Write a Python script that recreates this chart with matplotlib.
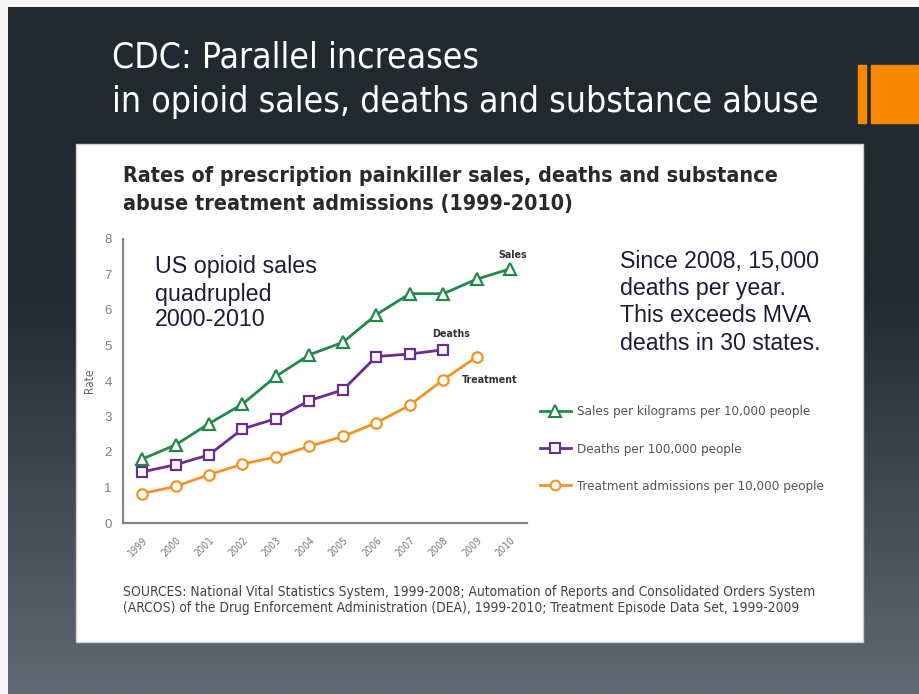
import numpy as np
import matplotlib
matplotlib.use("Agg")
import matplotlib.pyplot as plt
from matplotlib.patches import Rectangle
from matplotlib.lines import Line2D
from matplotlib import font_manager as fm

years = [1999, 2000, 2001, 2002, 2003, 2004, 2005, 2006, 2007, 2008, 2009, 2010]
sales = [1.8, 2.2, 2.8, 3.35, 4.13, 4.74, 5.09, 5.87, 6.46, 6.46, 6.87, 7.16]
death_years = [1999, 2000, 2001, 2002, 2003, 2004, 2005, 2006, 2007, 2008]
deaths = [1.44, 1.64, 1.92, 2.65, 2.94, 3.45, 3.75, 4.69, 4.76, 4.88]
treat_years = [1999, 2000, 2001, 2002, 2003, 2004, 2005, 2006, 2007, 2008, 2009]
treatment = [0.83, 1.03, 1.36, 1.66, 1.86, 2.16, 2.44, 2.82, 3.32, 4.04, 4.68]
y_ticks = [0, 1, 2, 3, 4, 5, 6, 7, 8]
legend_labels = ["Sales per kilograms per 10,000 people",
                 "Deaths per 100,000 people",
                 "Treatment admissions per 10,000 people"]
slide_title = ["CDC: Parallel increases", "in opioid sales, deaths and substance abuse"]
chart_title = ["Rates of prescription painkiller sales, deaths and substance",
               "abuse treatment admissions (1999-2010)"]
note_left = ["US opioid sales", "quadrupled", "2000-2010"]
note_right = ["Since 2008, 15,000", "deaths per year.", "This exceeds MVA", "deaths in 30 states."]
sources = ["SOURCES: National Vital Statistics System, 1999-2008; Automation of Reports and Consolidated Orders System",
           "(ARCOS) of the Drug Enforcement Administration (DEA), 1999-2010; Treatment Episode Data Set, 1999-2009"]

W, H = 919, 694
fig = plt.figure(figsize=(W / 100, H / 100), dpi=100)
fig.patch.set_facecolor("#f6f6f6")
renderer = fig.canvas.get_renderer()


def find_condensed(bold):
    cands = []
    for f in fm.fontManager.ttflist:
        st = str(f.stretch).lower()
        name = f.fname.lower()
        if ("condensed" in st or "narrow" in name or "condensed" in name
                or "narrow" in f.name.lower()):
            if "mono" in name or "serif" in name and "sans" not in name:
                continue
            if "oblique" in name or "italic" in name:
                continue
            w = f.weight if isinstance(f.weight, int) else (700 if "bold" in str(f.weight) else 400)
            if bold and w >= 600 or (not bold and w < 600):
                cands.append(f)
    pref = ["Liberation Sans Narrow", "DejaVu Sans", "Roboto", "Open Sans", "Noto Sans"]
    cands.sort(key=lambda f: pref.index(f.name) if f.name in pref else 99)
    if cands:
        return fm.FontProperties(fname=cands[0].fname)
    return fm.FontProperties(family=["Liberation Sans", "DejaVu Sans"],
                             weight="bold" if bold else "normal")


NARROW = find_condensed(False)
NARROW_B = find_condensed(True)
ARIAL = fm.FontProperties(family=["Liberation Sans", "DejaVu Sans"])


def fit_size(s, prop, target_px):
    p = prop.copy()
    p.set_size(10)
    w, _, _ = renderer.get_text_width_height_descent(s, p, ismath=False)
    return 10 * target_px / w


def fx(px):
    return px / W


def fy(py):
    return 1 - py / H


def put(x, y, s, prop, size, color, **kw):
    p = prop.copy()
    p.set_size(size)
    return fig.text(fx(x), fy(y), s, fontproperties=p, color=color,
                    va="center", ha=kw.pop("ha", "left"), zorder=kw.pop("zorder", 6), **kw)


# slide background gradient
bg = fig.add_axes([fx(8), 0, 1 - fx(8), fy(7)])
bg.set_axis_off()
top = np.array([0x22, 0x29, 0x30]) / 255
bot = np.array([0x60, 0x6a, 0x74]) / 255
t = np.linspace(0, 1, 400)
frac = np.clip((t - 0.42) / 0.58, 0, 1)
grad = top[None, :] * (1 - frac[:, None]) + bot[None, :] * frac[:, None]
bg.imshow(grad[:, None, :], aspect="auto", extent=[0, 1, 0, 1], origin="upper")
bg.set_xlim(0, 1)
bg.set_ylim(0, 1)

# slide title
st_size = fit_size(slide_title[1], NARROW, 822 - 113)
put(112, 57, slide_title[0], NARROW, st_size, "white")
put(112, 102, slide_title[1], NARROW, st_size, "white")

# orange bars
fig.patches.append(Rectangle((fx(858), fy(123)), fx(8), fy(65) - fy(123),
                             transform=fig.transFigure, color="#f98a00", zorder=2))
fig.patches.append(Rectangle((fx(871), fy(123)), fx(48), fy(65) - fy(123),
                             transform=fig.transFigure, color="#f98a00", zorder=2))

# white panel
fig.patches.append(Rectangle((fx(76), fy(642)), fx(863 - 76), fy(144) - fy(642),
                             transform=fig.transFigure, facecolor="white",
                             edgecolor="#d0d0d0", lw=1, zorder=2))

# chart title
ct_size = fit_size(chart_title[0], NARROW_B, 772 - 123)
put(123, 176, chart_title[0], NARROW_B, ct_size, "#2a2a2a")
put(123, 204, chart_title[1], NARROW_B, ct_size, "#2a2a2a")

# main axes
ax = fig.add_axes([fx(123), fy(523), fx(527 - 123), fy(239) - fy(523)])
ax.set_zorder(5)
ax.patch.set_alpha(0)
ax.set_xlim(1998.43, 2010.5)
ax.set_ylim(0, 8)
for s in ["top", "right"]:
    ax.spines[s].set_visible(False)
for s in ["left", "bottom"]:
    ax.spines[s].set_color("#858585")
    ax.spines[s].set_linewidth(1.6)
ax.set_yticks(y_ticks)
ytp = ARIAL.copy(); ytp.set_size(9.5)
ax.set_yticklabels([str(v) for v in y_ticks], fontproperties=ytp, color="#808080")
ax.set_xticks(years)
xtp = NARROW.copy(); xtp.set_size(fit_size("2000", NARROW, 23))
ax.set_xticklabels([str(y) for y in years], rotation=45, ha="right", va="top",
                   rotation_mode="anchor", fontproperties=xtp, color="#7a7a7a")
ax.tick_params(axis="y", length=0, pad=8)
ax.tick_params(axis="x", length=0, pad=9)
ylp = NARROW.copy(); ylp.set_size(8.5)
ax.set_ylabel("Rate", fontproperties=ylp, color="#666666", labelpad=6)

green = "#22894a"
purple = "#6b2d8e"
orange = "#f39325"
ax.plot(years, sales, color=green, lw=2.0, marker="^", ms=9, mfc="white",
        mec=green, mew=1.6, clip_on=False)
ax.plot(death_years, deaths, color=purple, lw=2.0, marker="s", ms=7.5, mfc="white",
        mec=purple, mew=1.6, clip_on=False)
ax.plot(treat_years, treatment, color=orange, lw=2.0, marker="o", ms=7.5, mfc="white",
        mec=orange, mew=1.6, clip_on=False)

# series labels
lab_size = fit_size("Treatment", NARROW_B, 517 - 462)
put(513, 255, "Sales", NARROW_B, lab_size, "#333333", ha="center")
put(451, 334, "Deaths", NARROW_B, lab_size, "#333333", ha="center")
put(490, 380, "Treatment", NARROW_B, lab_size, "#333333", ha="center")

# annotations
nl_size = fit_size(note_left[0], ARIAL, 317 - 155)
for s, y in zip(note_left, [267, 294, 320]):
    put(155, y, s, ARIAL, nl_size, "#1c1c3a")
nr_size = fit_size(note_right[0], ARIAL, 820 - 620)
for s, y in zip(note_right, [261, 289, 316, 343]):
    put(620, y, s, ARIAL, nr_size, "#1c1c3a")

# legend
lg_size = fit_size(legend_labels[0], NARROW, 810 - 577)
lgp = NARROW.copy(); lgp.set_size(lg_size)
handles = [Line2D([], [], color=green, lw=2.0, marker="^", ms=8, mfc="white", mec=green, mew=1.5),
           Line2D([], [], color=purple, lw=2.0, marker="s", ms=7, mfc="white", mec=purple, mew=1.5),
           Line2D([], [], color=orange, lw=2.0, marker="o", ms=7, mfc="white", mec=orange, mew=1.5)]
leg = fig.legend(handles, legend_labels, loc="center left",
                 bbox_to_anchor=(fx(528), fy(449)), frameon=False,
                 prop=lgp, labelcolor="#555555",
                 handlelength=2.3, handletextpad=0.5, labelspacing=1.8)
leg.set_zorder(6)

# sources
src_size = fit_size(sources[0], NARROW, 815 - 123)
put(123, 592, sources[0], NARROW, src_size, "#444444")
put(123, 608, sources[1], NARROW, src_size, "#444444")

fig.savefig("out.png", dpi=100)
